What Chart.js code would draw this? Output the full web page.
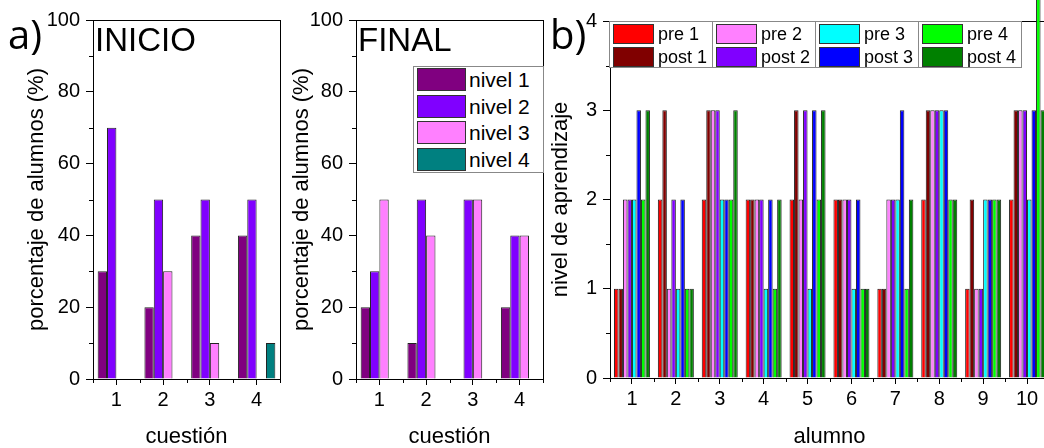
<!DOCTYPE html>
<html lang="es">
<head>
<meta charset="UTF-8">
<script src="https://cdn.jsdelivr.net/npm/chart.js"></script>
<title>Nivel de aprendizaje</title>
<style>
html, body { margin: 0; padding: 0; background: #fff; width: 1044px; height: 448px; overflow: hidden; }
.panel { position: absolute; top: 0; }
.tag { position: absolute; font-family: "Open Sans", sans-serif; font-size: 40px; line-height: 1; color: #000; }
.big { position: absolute; font-family: "Liberation Sans", Arial, sans-serif; font-size: 33px; line-height: 1; color: #000; }
.leg { position: absolute; background: #fff; border: 1px solid #888; box-sizing: border-box;
       font-family: "Liberation Sans", Arial, sans-serif; color: #000; }
.leg .sw { position: absolute; border: 1px solid #333; box-sizing: border-box; }
.leg .tx { position: absolute; line-height: 1; white-space: nowrap; }
</style>
</head>
<body>
<div class="panel" style="left:0"><canvas id="inicio" width="285" height="448"></canvas></div>
<div class="panel" style="left:285px"><canvas id="final" width="263" height="448"></canvas></div>
<div class="panel" style="left:548px"><canvas id="alumnos" width="510" height="448"></canvas></div>

<div class="tag" style="left:8px; top:14px">a)</div>
<div class="tag" style="left:550px; top:14px">b)</div>
<div class="big" style="left:95px; top:23px">INICIO</div>
<div class="big" style="left:358px; top:23px">FINAL</div>
<div class="leg" id="legNivel" style="left:413px; top:66px; width:131px; height:107px"></div>
<div id="legAlumno"></div>

<script>
// a) porcentaje de alumnos por nivel en cada cuestion
const cuestiones = ['1', '2', '3', '4'];
const niveles = ['nivel 1', 'nivel 2', 'nivel 3', 'nivel 4'];
const coloresNivel = ['#800080', '#8000ff', '#ff80ff', '#008080'];

const inicioNivel1 = [30, 20, 40, 40];
const inicioNivel2 = [70, 50, 50, 50];
const inicioNivel3 = [0, 30, 10, 0];
const inicioNivel4 = [0, 0, 0, 10];

const finalNivel1 = [20, 10, 0, 20];
const finalNivel2 = [30, 50, 50, 40];
const finalNivel3 = [50, 40, 50, 40];
const finalNivel4 = [0, 0, 0, 0];

// b) nivel de aprendizaje de cada alumno
const alumnos = ['1', '2', '3', '4', '5', '6', '7', '8', '9', '10'];
const series = ['pre 1', 'post 1', 'pre 2', 'post 2', 'pre 3', 'post 3', 'pre 4', 'post 4'];
const coloresSerie = ['#ff0000', '#800000', '#ff80ff', '#8000ff', '#00ffff', '#0000ff', '#00ff00', '#008000'];

const pre1  = [1, 2, 2, 2, 2, 2, 1, 2, 1, 2];
const post1 = [1, 3, 3, 2, 3, 2, 1, 3, 2, 3];
const pre2  = [2, 1, 3, 2, 2, 2, 2, 3, 1, 3];
const post2 = [2, 2, 3, 2, 3, 2, 2, 3, 1, 3];
const pre3  = [2, 1, 2, 1, 1, 1, 2, 3, 2, 2];
const post3 = [3, 2, 2, 2, 3, 2, 3, 3, 2, 3];
const pre4  = [2, 1, 2, 1, 2, 1, 1, 2, 2, 4.3];
const post4 = [3, 1, 3, 2, 3, 1, 2, 2, 2, 3];

const fuenteTick = { family: '"Liberation Sans", Arial, sans-serif', size: 20 };
const fuenteTitulo = { family: '"Liberation Sans", Arial, sans-serif', size: 22 };

// marco del area de trazado + marcas menores
const marco = {
  id: 'marco',
  beforeDatasetsDraw(chart, args, opts) {
    const { ctx, chartArea: a, scales: { x, y } } = chart;
    ctx.save();
    ctx.strokeStyle = '#000';
    ctx.lineWidth = 1;
    ctx.strokeRect(Math.round(a.left) + 0.5, Math.round(a.top) + 0.5,
                   Math.round(a.right - a.left), Math.round(a.bottom - a.top));
    ctx.beginPath();
    for (let v = y.min + opts.paso; v < y.max; v += 2 * opts.paso) {
      const py = Math.round(y.getPixelForValue(v)) + 0.5;
      ctx.moveTo(a.left - 4, py);
      ctx.lineTo(a.left, py);
    }
    for (let i = -0.5; i < x.ticks.length; i += 1) {
      const px = Math.round(x.getPixelForValue(i)) + 0.5;
      ctx.moveTo(px, a.bottom);
      ctx.lineTo(px, a.bottom + 4);
    }
    ctx.stroke();
    ctx.restore();
  }
};

function opciones(o) {
  return {
    responsive: false,
    animation: false,
    events: [],
    layout: { padding: { top: o.arriba, right: o.derecha, left: 0, bottom: 0 } },
    plugins: { legend: { display: false }, tooltip: { enabled: false }, marco: { paso: o.menor } },
    scales: {
      x: {
        offset: true,
        grid: { offset: false, drawOnChartArea: false, tickLength: 6, color: '#000' },
        border: { display: true, color: '#000', width: 1 },
        ticks: { color: '#000', font: fuenteTick, padding: 3, maxRotation: 0, autoSkip: false },
        title: { display: true, text: o.tituloX, color: '#000', font: fuenteTitulo, padding: { top: 0, bottom: -2 } },
        afterFit: s => { s.height = o.altoX; }
      },
      y: {
        min: 0,
        max: o.max,
        grid: { drawOnChartArea: false, tickLength: 7, color: '#000' },
        border: { display: true, color: '#000', width: 1 },
        ticks: { stepSize: o.paso, color: '#000', font: fuenteTick, padding: 6 },
        title: { display: true, text: o.tituloY, color: '#000', font: fuenteTitulo, padding: { top: o.padTitulo, bottom: 0 } },
        afterFit: s => { s.width = o.anchoY; }
      }
    }
  };
}

function barras(etiquetas, valores, colores, pct) {
  return etiquetas.map((et, i) => ({
    label: et,
    data: valores[i],
    backgroundColor: colores[i],
    borderColor: '#222',
    borderWidth: 1,
    categoryPercentage: pct,
    barPercentage: 1
  }));
}

new Chart(document.getElementById('inicio'), {
  type: 'bar',
  data: {
    labels: cuestiones,
    datasets: barras(niveles, [inicioNivel1, inicioNivel2, inicioNivel3, inicioNivel4], coloresNivel, 0.8)
  },
  options: opciones({ arriba: 20, derecha: 5, altoX: 69, anchoY: 93, max: 100, paso: 20, menor: 10,
                      tituloX: 'cuestión', tituloY: 'porcentaje de alumnos (%)', padTitulo: 24 }),
  plugins: [marco]
});

new Chart(document.getElementById('final'), {
  type: 'bar',
  data: {
    labels: cuestiones,
    datasets: barras(niveles, [finalNivel1, finalNivel2, finalNivel3, finalNivel4], coloresNivel, 0.8)
  },
  options: opciones({ arriba: 20, derecha: 5, altoX: 69, anchoY: 71, max: 100, paso: 20, menor: 10,
                      tituloX: 'cuestión', tituloY: 'porcentaje de alumnos (%)', padTitulo: 4 }),
  plugins: [marco]
});

const setsAlumno = barras(series, [pre1, post1, pre2, post2, pre3, post3, pre4, post4], coloresSerie, 0.82);
setsAlumno[6].clip = false; // la barra de 10 sobresale del marco

new Chart(document.getElementById('alumnos'), {
  type: 'bar',
  data: { labels: alumnos, datasets: setsAlumno },
  options: opciones({ arriba: 21, derecha: 9, altoX: 70, anchoY: 62, max: 4, paso: 1, menor: 0.5,
                      tituloX: 'alumno', tituloY: 'nivel de aprendizaje', padTitulo: 0 }),
  plugins: [marco]
});

// leyenda de niveles (panel FINAL)
const legNivel = document.getElementById('legNivel');
niveles.forEach((n, i) => {
  const top = 1 + i * 26.6;
  legNivel.insertAdjacentHTML('beforeend',
    `<div class="sw" style="left:3px; top:${top}px; width:49px; height:23px; background:${coloresNivel[i]}"></div>` +
    `<div class="tx" style="left:55px; top:${top + 1}px; font-size:21px">${n}</div>`);
});

// leyenda de alumnos: 4 cajas de 2 filas
const legAlumno = document.getElementById('legAlumno');
for (let c = 0; c < 4; c++) {
  let html = `<div class="leg" style="left:${609 + c * 103}px; top:21px; width:104px; height:47px">`;
  for (let r = 0; r < 2; r++) {
    const k = c * 2 + r;
    const top = 2 + r * 22.5;
    html += `<div class="sw" style="left:3px; top:${top}px; width:41px; height:20px; background:${coloresSerie[k]}"></div>` +
            `<div class="tx" style="left:48px; top:${top + 1}px; font-size:18px">${series[k]}</div>`;
  }
  legAlumno.insertAdjacentHTML('beforeend', html + '</div>');
}
</script>
</body>
</html>
